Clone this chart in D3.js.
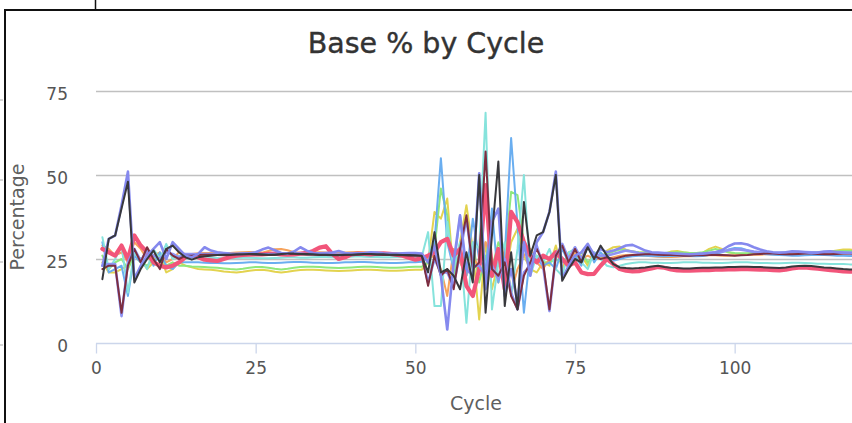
<!DOCTYPE html>
<html>
<head>
<meta charset="utf-8">
<script src="https://cdn.jsdelivr.net/npm/d3@7"></script>
<style>
  body { margin: 0; background: #fff; }
  text { font-family: "DejaVu Sans", "Lucida Grande", sans-serif; }
</style>
</head>
<body>
<svg id="chart" width="852" height="423"></svg>
<script>
// axis ticks
const yTicks = [0, 25, 50, 75];
const xTicks = [0, 25, 50, 75, 100];

// % per cycle, cycles 1..120 (rows: 1-15, 16-51, 52-79, 80-120)
const black = [
  19, 31, 32, 40, 48, 18, 22, 25, 27.5, 24, 28, 29, 27, 25.5, 24.8,
  25.5, 25.8, 26, 26.2, 26.3, 26.3, 26.4, 26.4, 26.5, 26.5, 26.4, 26.3, 26.3, 26.5, 26.6, 26.6, 26.5, 26.5, 26.4, 26.3, 26.3, 26.2, 26.2, 26.3, 26.3, 26.4, 26.5, 26.5, 26.4, 26.4, 26.3, 26.3, 26.2, 26.2, 26.1, 26,
  21, 33, 21, 22, 20, 16, 27, 18, 50, 9, 32, 54, 11, 27, 10, 42, 26, 32, 33, 39, 50, 18.5, 22, 25, 24, 28.5, 25, 29,
  26, 23.5, 22.5, 22.3, 22.2, 22.3, 22.5, 22.8, 23, 22.6, 22.4, 22.3, 22.2, 22.2, 22.3, 22.4, 22.4, 22.5, 22.5, 22.6, 22.6, 22.7, 22.7, 22.6, 22.6, 22.5, 22.4, 22.3, 22.5, 22.8, 22.9, 23, 22.9, 22.7, 22.5, 22.4, 22.2, 22, 21.9, 21.8, 21.8
];
const purple = [
  23, 31, 32, 41, 51, 19, 23, 26, 28, 30, 25, 30, 28, 26, 25.5,
  26.5, 28.5, 27.5, 27, 26.8, 26.6, 26.5, 26.6, 26.7, 27, 27.8, 28.4, 27.6, 26.8, 26.6, 27.2, 28.5, 27.5, 26.8, 26.7, 26.8, 26.9, 27.4, 26.8, 26.6, 26.7, 26.8, 27, 26.9, 26.7, 26.6, 26.6, 26.7, 26.8, 26.8, 26.6,
  24, 29, 20, 4, 24, 38, 22, 20, 50.5, 16, 36, 40, 14, 22, 12, 30, 20, 30, 33, 39, 51, 19, 23, 26, 27, 29.5, 26, 28,
  27, 27.5, 28.2, 29, 29.2, 28.4, 27.5, 27, 26.9, 26.8, 26.7, 26.6, 26.5, 26.4, 26.5, 26.6, 26.8, 27, 27.6, 28.8, 29.6, 29.7, 29.3, 28.5, 27.8, 27.3, 27, 26.9, 27, 27.3, 27.2, 27, 26.8, 26.9, 27.2, 27.3, 27, 26.8, 26.7, 26.7, 26.7
];
const maroon = [
  22, 23, 23, 9, 23, 28, 24, 28.5, 25, 22, 28, 26, 25, 26, 26,
  26.2, 26.3, 26.3, 26.2, 26.1, 26.2, 26.3, 26.4, 26.4, 26.3, 26.2, 26.2, 26.3, 26.4, 26.5, 26.5, 26.4, 26.3, 26.3, 26.2, 26.2, 26.1, 26.1, 26.2, 26.3, 26.3, 26.4, 26.4, 26.3, 26.2, 26.2, 26.1, 26.1, 26, 26, 26,
  17, 26, 20, 22, 16, 28, 38, 22, 24, 57, 22, 20, 24, 14, 10, 20, 24, 28, 24, 10, 26, 29, 24, 28, 24, 29, 26, 25,
  25.5, 25, 25.5, 26, 26.2, 26.3, 26.4, 26.4, 26.3, 26.2, 26.2, 26.1, 26, 26, 26.1, 26.1, 26.2, 26.3, 26.2, 26.1, 26, 26.1, 26.2, 26.4, 26.5, 26.6, 26.6, 26.5, 26.4, 26.4, 26.5, 26.6, 26.6, 26.5, 26.4, 26.4, 26.5, 26.6, 26.6, 26.5, 26.5
];
const violet = [
  23, 23.5, 23.5, 8, 24, 28, 24.5, 27.5, 26, 25, 27, 26.5, 25.5, 26.5, 26.5,
  26.4, 26.5, 26.5, 26.4, 26.3, 26.4, 26.5, 26.6, 26.6, 26.5, 26.4, 26.4, 26.5, 26.6, 26.7, 26.7, 26.6, 26.5, 26.5, 26.4, 26.4, 26.3, 26.3, 26.4, 26.5, 26.5, 26.6, 26.6, 26.5, 26.4, 26.4, 26.3, 26.3, 26.2, 26.2, 26.2,
  18, 25, 21, 21, 17, 27, 37, 23, 23, 20, 23, 19, 25, 15, 10, 21, 23, 29, 23, 9.5, 26, 29.5, 25, 28.5, 25, 29, 26.5, 26,
  26, 26.5, 27, 27.5, 27.2, 26.8, 26.6, 26.5, 26.5, 26.4, 26.3, 26.2, 26.2, 26.3, 26.5, 26.6, 26.8, 27, 27.2, 27.6, 27.9, 27.8, 27.5, 27.2, 27, 26.8, 26.8, 26.8, 26.9, 27, 27.1, 27.1, 27, 26.9, 26.9, 27, 27.1, 27, 26.9, 26.9, 26.8
];
const pink = [
  28, 27, 26, 29, 25, 32, 29, 27, 24, 23, 22.5, 23, 24, 25.5, 26,
  25.5, 24.8, 24.6, 24.4, 25, 25.6, 26, 26.2, 26.3, 26.4, 26.4, 26.5, 26.6, 26.4, 26.3, 26.4, 26.6, 26.8, 27.4, 28.4, 28.8, 26.5, 25, 25.5, 26.4, 26.6, 26.5, 26.4, 26.6, 26.7, 26.5, 26.3, 26, 25.4, 24.8, 25.2,
  26, 27, 30, 31, 26, 28, 17, 14, 22, 47, 20, 28, 16, 39, 36, 30, 26, 24, 26, 25, 27, 25, 23, 24, 21, 20.5, 20.6, 23,
  25, 23.5, 22, 21.5, 21.3, 21.4, 21.8, 22.2, 22.6, 22.4, 21.9, 21.6, 21.5, 21.5, 21.6, 21.7, 21.7, 21.8, 21.8, 21.9, 21.9, 22, 22, 21.9, 21.8, 21.8, 21.7, 21.6, 21.8, 22.2, 22.4, 22.5, 22.3, 22.1, 21.9, 21.7, 21.5, 21.3, 21.2, 21.2, 21.2
];
const cyan = [
  31.5, 22, 25, 29, 15, 27, 25, 22, 28, 25, 29.5, 25, 26, 25, 25.5,
  25.2, 25.2, 25.3, 25.3, 25.2, 25.2, 25.3, 25.4, 25.4, 25.3, 25.2, 25.2, 25.3, 25.4, 25.5, 25.5, 25.4, 25.4, 25.5, 25.6, 25.6, 25.5, 25.5, 25.6, 25.7, 25.8, 25.7, 25.6, 25.6, 25.5, 25.5, 25.6, 25.7, 25.6, 25.5, 25.6,
  33, 11, 11, 36, 22, 30, 6, 30, 28, 68.5, 10, 24, 30, 14, 28, 50, 20, 26, 24, 28, 22, 20, 27, 28, 24, 22, 27, 25,
  23, 22.5, 23, 23.5, 23.8, 24, 24, 23.9, 23.9, 23.8, 23.8, 23.9, 24, 24, 24, 23.9, 23.9, 23.8, 23.8, 23.9, 24, 24, 24, 23.9, 23.8, 23.8, 23.7, 23.7, 23.8, 23.9, 23.9, 23.8, 23.7, 23.6, 23.6, 23.5, 23.5, 23.5, 23.4, 23.4, 23.4
];
const lightBlue = [
  30, 21, 22, 23, 14, 26, 24, 28, 23, 27, 23, 22, 24, 24, 24,
  24, 23.9, 23.8, 23.8, 23.7, 23.7, 23.8, 23.9, 24, 24, 23.9, 23.8, 23.8, 23.9, 24, 24.1, 24.1, 24, 23.9, 23.9, 23.8, 23.8, 23.9, 24, 24, 24.1, 24.1, 24, 23.9, 23.9, 23.8, 23.8, 23.9, 24, 24, 24.2,
  26, 30, 55, 30, 22, 38, 20, 37, 25, 22, 40, 18, 26, 61, 35, 9, 27, 25, 23, 24, 22, 28, 24, 26, 23, 29, 24, 27,
  25, 24.5, 25, 25.5, 25.8, 26, 26, 25.9, 25.8, 25.8, 25.9, 26, 26, 25.9, 25.8, 25.9, 26.2, 26.5, 27, 27.8, 28.3, 28.2, 27.6, 27, 26.6, 26.4, 26.3, 26.2, 26.1, 26, 26, 26.1, 26.2, 26.3, 26.2, 26.1, 26, 26, 25.9, 25.8, 25.8
];
const yellow = [
  24, 21, 21, 22, 23, 27, 25, 22, 24, 26, 21, 22, 24, 23, 22.5,
  22, 21.9, 21.8, 21.6, 21.3, 21.1, 21, 21.2, 21.5, 21.7, 21.8, 21.6, 21.2, 21, 21.2, 21.5, 21.7, 21.8, 21.8, 21.7, 21.6, 21.5, 21.4, 21.5, 21.6, 21.7, 21.8, 21.8, 21.7, 21.6, 21.5, 21.5, 21.6, 21.7, 21.8, 21.8,
  24, 39, 37, 43, 20, 30, 41, 28, 7, 30, 16, 24, 18, 30, 34, 26, 22, 21, 24, 23, 29, 22, 27, 24, 26, 23, 27, 25,
  27.5, 28.5, 28.7, 27.8, 27.2, 27, 26.9, 26.8, 26.6, 26.5, 27.2, 27.4, 27, 26.8, 26.6, 26.8, 28, 28.7, 28, 27, 26.6, 26.5, 26.6, 26.7, 26.8, 26.7, 26.6, 26.5, 26.6, 26.8, 26.7, 26.6, 26.8, 26.9, 27, 27.2, 27.5, 27.8, 27.8, 27.6, 27.5
];
const green = [
  26, 22, 24, 25, 22, 26, 24, 23, 25, 26, 23, 24, 23, 23, 22.8,
  22.7, 22.6, 22.5, 22.4, 22.2, 22, 21.9, 22.1, 22.4, 22.6, 22.6, 22.4, 22.1, 21.9, 22.1, 22.4, 22.6, 22.7, 22.7, 22.6, 22.5, 22.4, 22.3, 22.4, 22.5, 22.6, 22.7, 22.7, 22.6, 22.5, 22.4, 22.4, 22.5, 22.6, 22.7, 22.7,
  24, 28, 46, 38, 20, 28, 22, 30, 18, 26, 22, 30, 25, 45, 44, 30, 23, 26, 24, 24, 25, 24, 26, 25, 27, 24, 26, 26,
  26.5, 27.2, 27.8, 27.6, 27.2, 27, 26.9, 26.8, 26.8, 26.8, 26.9, 27, 26.9, 26.8, 26.8, 27, 27.5, 28, 27.5, 27, 26.8, 26.7, 26.7, 26.8, 26.9, 26.9, 26.8, 26.8, 26.9, 27, 27, 26.9, 26.9, 27, 27.1, 27.2, 27.3, 27.4, 27.4, 27.3, 27.3
];
const orange = [
  29, 28, 26, 27, 24, 30, 28, 25, 26, 27, 24, 25, 27, 26.5, 26.5,
  26.7, 26.8, 26.8, 26.9, 26.8, 26.8, 26.9, 27, 27.1, 27, 26.9, 27.4, 27.9, 28, 27.6, 27, 26.8, 26.8, 26.9, 27, 26.9, 26.8, 26.8, 26.9, 27, 27.1, 27, 26.9, 26.8, 26.8, 26.7, 26.7, 26.6, 26.6, 26.5, 26.4,
  25, 26, 22, 14, 28, 24, 20, 26, 22, 30, 25, 18, 28, 15, 22, 26, 28, 24, 22, 25, 26, 25, 24, 27, 25, 26, 25, 25,
  25, 25.5, 26, 26.2, 26.3, 26.2, 26, 25.8, 25.7, 25.6, 25.6, 25.7, 25.8, 25.8, 25.9, 26, 26.1, 26.1, 26, 26, 26.1, 26.2, 26.2, 26.3, 26.3, 26.4, 26.4, 26.3, 26.3, 26.4, 26.5, 26.5, 26.4, 26.4, 26.5, 26.6, 26.6, 26.5, 26.5, 26.5, 26.5
];

// draw order: first is underneath
const series = [
  {values: yellow, color: "#e3d34f", width: 2},
  {values: green, color: "#8fe87c", width: 2},
  {values: orange, color: "#f6a35c", width: 2},
  {values: lightBlue, color: "#6aaef0", width: 2},
  {values: cyan, color: "#86e3dc", width: 2},
  {values: pink, color: "#f2557a", width: 4.2},
  {values: violet, color: "#8f93f2", width: 2.6},
  {values: maroon, color: "#7d2e40", width: 2},
  {values: purple, color: "#8589ee", width: 2.6},
  {values: black, color: "#38383c", width: 2}
];

const svg = d3.select("#chart");
const plot = {left: 96, right: 856, top: 91, bottom: 343};

const x = d3.scaleLinear().domain([0, 119]).range([plot.left, plot.right]);
const y = d3.scaleLinear().domain([0, 75]).range([plot.bottom, plot.top]);

// page frame around the chart
svg.append("line").attr("x1", 4).attr("x2", 852).attr("y1", 10).attr("y2", 10)
  .attr("stroke", "#111").attr("stroke-width", 2);
svg.append("line").attr("x1", 5).attr("x2", 5).attr("y1", 10).attr("y2", 423)
  .attr("stroke", "#111").attr("stroke-width", 2);
svg.append("line").attr("x1", 95.5).attr("x2", 95.5).attr("y1", 0).attr("y2", 10)
  .attr("stroke", "#111").attr("stroke-width", 1.5);
[100, 180, 262, 345].forEach(v => {
  svg.append("line").attr("x1", 0).attr("x2", 3).attr("y1", v).attr("y2", v)
    .attr("stroke", "#aaa").attr("stroke-width", 1);
});

// title
svg.append("text")
  .attr("x", 426).attr("y", 53)
  .attr("text-anchor", "middle")
  .attr("fill", "#333")
  .attr("stroke", "#333").attr("stroke-width", 0.4)
  .style("font-size", "28.5px")
  .text("Base % by Cycle");

// grid
svg.append("g")
  .selectAll("line")
  .data(yTicks.filter(d => d > 0))
  .join("line")
    .attr("x1", plot.left).attr("x2", 852)
    .attr("y1", d => Math.round(y(d)) + 0.5).attr("y2", d => Math.round(y(d)) + 0.5)
    .attr("stroke", "#c0c0c0").attr("stroke-width", 1.3);

// y axis labels
const yAxis = svg.append("g")
  .attr("transform", `translate(${plot.left - 28},0)`)
  .call(d3.axisLeft(y).tickValues(yTicks).tickSize(0).tickPadding(0));
yAxis.select(".domain").remove();
yAxis.selectAll("text")
  .attr("fill", "#555")
  .attr("dy", "0.32em")
  .attr("y", 3)
  .style("font-size", "17px")
  .style("font-family", "DejaVu Sans, sans-serif");

svg.append("text")
  .attr("transform", `translate(24,${(plot.top + plot.bottom) / 2}) rotate(-90)`)
  .attr("text-anchor", "middle")
  .attr("fill", "#5f5f5f")
  .style("font-size", "19px")
  .text("Percentage");

// lines
svg.append("clipPath").attr("id", "clip")
  .append("rect").attr("x", plot.left).attr("y", 0)
  .attr("width", plot.right - plot.left).attr("height", plot.bottom + 5);

const line = d3.line()
  .x((d, i) => x(i + 1))
  .y(d => y(d));

svg.append("g").attr("clip-path", "url(#clip)")
  .selectAll("path")
  .data(series)
  .join("path")
    .attr("d", d => line(d.values))
    .attr("fill", "none")
    .attr("stroke", d => d.color)
    .attr("stroke-width", d => d.width)
    .attr("stroke-linejoin", "round")
    .attr("stroke-linecap", "round");

// x axis
const xAxis = svg.append("g")
  .attr("transform", `translate(0,${plot.bottom + 0.5})`)
  .call(d3.axisBottom(x).tickValues(xTicks).tickSize(10).tickPadding(8).tickSizeOuter(0));
xAxis.select(".domain").attr("stroke", "#ccd6eb").attr("stroke-width", 1.3)
  .attr("d", `M${plot.left},0H852`);
xAxis.selectAll(".tick line").attr("stroke", "#ccd6eb").attr("stroke-width", 1.3);
xAxis.selectAll("text")
  .attr("fill", "#555")
  .style("font-size", "17px")
  .style("font-family", "DejaVu Sans, sans-serif");

svg.append("text")
  .attr("x", (plot.left + plot.right) / 2).attr("y", 410)
  .attr("text-anchor", "middle")
  .attr("fill", "#5f5f5f")
  .style("font-size", "19px")
  .text("Cycle");
</script>
</body>
</html>
